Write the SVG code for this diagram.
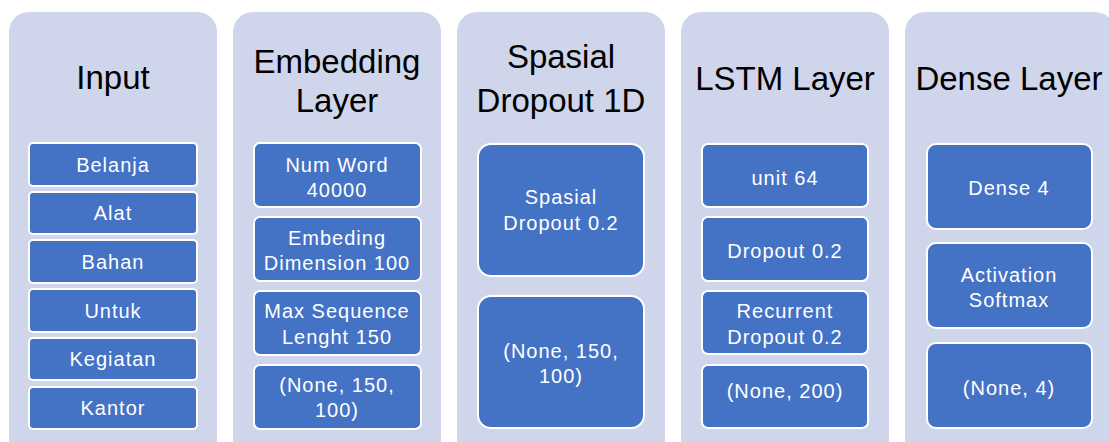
<svg xmlns="http://www.w3.org/2000/svg" width="1109" height="442" viewBox="0 0 1109 442">
<style>
.col{fill:#CFD5EA;}
.box{fill:#4472C4;stroke:#FFFFFF;stroke-width:2;}
.title{font-family:"Liberation Sans",Arial,sans-serif;font-size:33px;fill:#000000;text-anchor:middle;}
.lbl{font-family:"Liberation Sans",Arial,sans-serif;font-size:20px;fill:#FFFFFF;text-anchor:middle;letter-spacing:1px;}
</style>
<rect width="1109" height="442" fill="#FFFFFF"/>
<g id="input">
<rect class="col" x="9" y="12" width="208" height="460" rx="20"/>
<text class="title" x="113" y="89">Input</text>
<rect class="box" x="29" y="143" width="168" height="43" rx="4"/>
<text class="lbl" x="113" y="172">Belanja</text>
<rect class="box" x="29" y="192" width="168" height="42" rx="4"/>
<text class="lbl" x="113" y="220">Alat</text>
<rect class="box" x="29" y="240" width="168" height="43" rx="4"/>
<text class="lbl" x="113" y="269">Bahan</text>
<rect class="box" x="29" y="289" width="168" height="43" rx="4"/>
<text class="lbl" x="113" y="318">Untuk</text>
<rect class="box" x="29" y="338" width="168" height="42" rx="4"/>
<text class="lbl" x="113" y="366">Kegiatan</text>
<rect class="box" x="29" y="387" width="168" height="42" rx="4"/>
<text class="lbl" x="113" y="415">Kantor</text>
</g>
<g id="embedding">
<rect class="col" x="233" y="12" width="208" height="460" rx="20"/>
<text class="title" x="337" y="73">Embedding</text>
<text class="title" x="337" y="112">Layer</text>
<rect class="box" x="254" y="143" width="167" height="64" rx="6"/>
<text class="lbl" x="337" y="172">Num Word</text>
<text class="lbl" x="337" y="197">40000</text>
<rect class="box" x="254" y="217" width="167" height="64" rx="6"/>
<text class="lbl" x="337" y="245">Embeding</text>
<text class="lbl" x="337" y="270">Dimension 100</text>
<rect class="box" x="254" y="291" width="167" height="64" rx="6"/>
<text class="lbl" x="337" y="318">Max Sequence</text>
<text class="lbl" x="337" y="344">Lenght 150</text>
<rect class="box" x="254" y="365" width="167" height="64" rx="6"/>
<text class="lbl" x="337" y="392">(None, 150,</text>
<text class="lbl" x="337" y="417">100)</text>
</g>
<g id="spasial">
<rect class="col" x="457" y="12" width="208" height="460" rx="20"/>
<text class="title" x="561" y="68">Spasial</text>
<text class="title" x="561" y="112">Dropout 1D</text>
<rect class="box" x="478" y="144" width="166" height="132" rx="13"/>
<text class="lbl" x="561" y="204">Spasial</text>
<text class="lbl" x="561" y="230">Dropout 0.2</text>
<rect class="box" x="478" y="296" width="166" height="132" rx="13"/>
<text class="lbl" x="561" y="358">(None, 150,</text>
<text class="lbl" x="561" y="383">100)</text>
</g>
<g id="lstm">
<rect class="col" x="681" y="12" width="208" height="460" rx="20"/>
<text class="title" x="785" y="90">LSTM Layer</text>
<rect class="box" x="702" y="144" width="166" height="63" rx="6"/>
<text class="lbl" x="785" y="185">unit 64</text>
<rect class="box" x="702" y="217" width="166" height="64" rx="6"/>
<text class="lbl" x="785" y="258">Dropout 0.2</text>
<rect class="box" x="702" y="291" width="166" height="63" rx="6"/>
<text class="lbl" x="785" y="318">Recurrent</text>
<text class="lbl" x="785" y="344">Dropout 0.2</text>
<rect class="box" x="702" y="365" width="166" height="63" rx="6"/>
<text class="lbl" x="785" y="398">(None, 200)</text>
</g>
<g id="dense">
<rect class="col" x="905" y="12" width="210" height="460" rx="20"/>
<text class="title" x="1009" y="90">Dense Layer</text>
<rect class="box" x="927" y="144" width="165" height="85" rx="9"/>
<text class="lbl" x="1009" y="195">Dense 4</text>
<rect class="box" x="927" y="243" width="165" height="85" rx="9"/>
<text class="lbl" x="1009" y="282">Activation</text>
<text class="lbl" x="1009" y="307">Softmax</text>
<rect class="box" x="927" y="343" width="165" height="85" rx="9"/>
<text class="lbl" x="1009" y="395">(None, 4)</text>
</g>
<g id="connectors"/>
</svg>
